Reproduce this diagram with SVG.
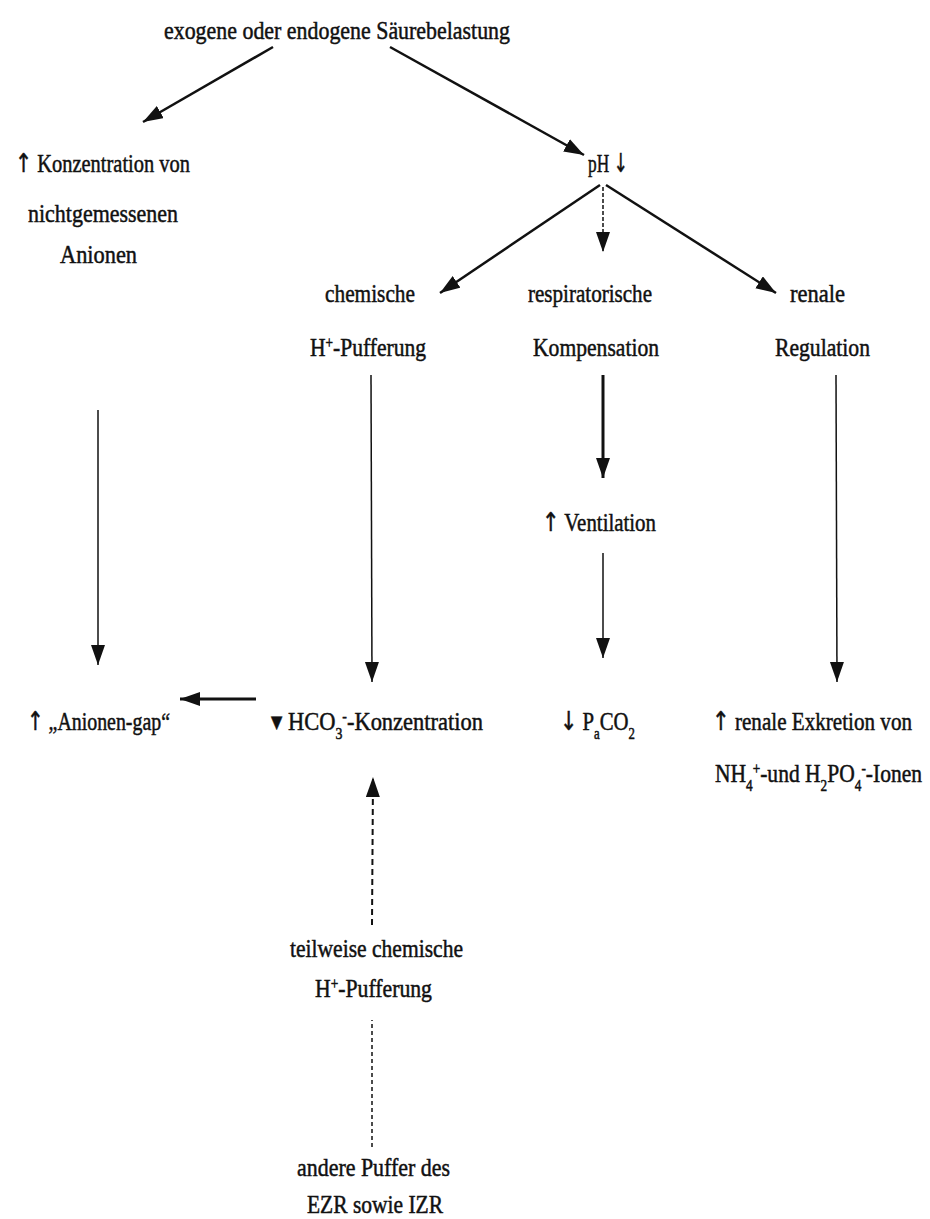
<svg xmlns="http://www.w3.org/2000/svg" width="930" height="1219" viewBox="0 0 930 1219">
<style>
text{font-family:"Liberation Serif","DejaVu Serif","Times New Roman",serif;font-size:26px;fill:#111;stroke:#111;stroke-width:0.5px;}
.a{font-family:"DejaVu Sans","Liberation Sans",sans-serif;fill:#111;}
.c{stroke:#111;fill:none;}
.sub{font-size:16px;}
</style>
<defs>
<marker id="ah" markerUnits="userSpaceOnUse" markerWidth="22" markerHeight="16" refX="20" refY="7" orient="auto">
<path d="M0,0 L20,7 L0,14 z" fill="#111"/>
</marker>
</defs>
<rect width="930" height="1219" fill="#fff"/>
<g id="connectors">
<line class="c" x1="273" y1="47" x2="143" y2="122" stroke-width="2.5" marker-end="url(#ah)"/>
<line class="c" x1="390" y1="47" x2="584" y2="155" stroke-width="2.5" marker-end="url(#ah)"/>
<line class="c" x1="600" y1="185" x2="440" y2="293" stroke-width="2.5" marker-end="url(#ah)"/>
<line class="c" x1="603" y1="187" x2="603" y2="252" stroke-width="1.5" stroke-dasharray="4,2" marker-end="url(#ah)"/>
<line class="c" x1="606" y1="185" x2="776" y2="293" stroke-width="2.5" marker-end="url(#ah)"/>
<line class="c" x1="98" y1="410" x2="98" y2="665" stroke-width="1.5" marker-end="url(#ah)"/>
<line class="c" x1="371" y1="375" x2="372" y2="682" stroke-width="1.5" marker-end="url(#ah)"/>
<line class="c" x1="603" y1="375" x2="603" y2="478" stroke-width="3" marker-end="url(#ah)"/>
<line class="c" x1="603" y1="553" x2="603" y2="658" stroke-width="1.5" marker-end="url(#ah)"/>
<line class="c" x1="836" y1="375" x2="837" y2="682" stroke-width="1.5" marker-end="url(#ah)"/>
<line class="c" x1="256" y1="699" x2="180" y2="699" stroke-width="3" marker-end="url(#ah)"/>
<line class="c" x1="372" y1="925" x2="373" y2="777" stroke-width="2" stroke-dasharray="6,4" marker-end="url(#ah)"/>
<line class="c" x1="372" y1="1147" x2="372" y2="1020" stroke-width="1.5" stroke-dasharray="4,3"/>
</g>
<g id="n-saeure"><text x="164" y="39" textLength="346" lengthAdjust="spacingAndGlyphs">exogene oder endogene Säurebelastung</text></g>
<g id="n-anionen">
<text x="15" y="172" textLength="175" lengthAdjust="spacingAndGlyphs"><tspan class="a">↑</tspan> Konzentration von</text>
<text x="28" y="222" textLength="150" lengthAdjust="spacingAndGlyphs">nichtgemessenen</text>
<text x="60" y="263" textLength="77" lengthAdjust="spacingAndGlyphs">Anionen</text>
</g>
<g id="n-ph"><text x="588" y="172" textLength="40" lengthAdjust="spacingAndGlyphs">pH <tspan class="a">↓</tspan></text></g>
<g id="n-chem">
<text x="325" y="302" textLength="90" lengthAdjust="spacingAndGlyphs">chemische</text>
<text x="310" y="356" textLength="116" lengthAdjust="spacingAndGlyphs">H<tspan class="sub" baseline-shift="super">+</tspan>-Pufferung</text>
</g>
<g id="n-resp">
<text x="528" y="302" textLength="124" lengthAdjust="spacingAndGlyphs">respiratorische</text>
<text x="533" y="356" textLength="126" lengthAdjust="spacingAndGlyphs">Kompensation</text>
</g>
<g id="n-ren">
<text x="790" y="302" textLength="55" lengthAdjust="spacingAndGlyphs">renale</text>
<text x="775" y="356" textLength="95" lengthAdjust="spacingAndGlyphs">Regulation</text>
</g>
<g id="n-vent"><text x="542" y="531" textLength="114" lengthAdjust="spacingAndGlyphs"><tspan class="a">↑</tspan> Ventilation</text></g>
<g id="n-gap"><text x="27" y="730" textLength="143" lengthAdjust="spacingAndGlyphs"><tspan class="a">↑</tspan> „Anionen-gap“</text></g>
<g id="n-hco3"><text x="271" y="730" textLength="212" lengthAdjust="spacingAndGlyphs"><tspan class="a">▾</tspan> HCO<tspan class="sub" baseline-shift="sub">3</tspan><tspan class="sub" baseline-shift="super">-</tspan>-Konzentration</text></g>
<g id="n-paco2"><text x="560" y="730" textLength="75" lengthAdjust="spacingAndGlyphs"><tspan class="a">↓</tspan> P<tspan class="sub" baseline-shift="sub">a</tspan>CO<tspan class="sub" baseline-shift="sub">2</tspan></text></g>
<g id="n-exkr">
<text x="712" y="730" textLength="200" lengthAdjust="spacingAndGlyphs"><tspan class="a">↑</tspan> renale Exkretion von</text>
<text x="715" y="782" textLength="207" lengthAdjust="spacingAndGlyphs">NH<tspan class="sub" baseline-shift="sub">4</tspan><tspan class="sub" baseline-shift="super">+</tspan>-und H<tspan class="sub" baseline-shift="sub">2</tspan>PO<tspan class="sub" baseline-shift="sub">4</tspan><tspan class="sub" baseline-shift="super">-</tspan>-Ionen</text>
</g>
<g id="n-teil">
<text x="290" y="957" textLength="173" lengthAdjust="spacingAndGlyphs">teilweise chemische</text>
<text x="315" y="997" textLength="117" lengthAdjust="spacingAndGlyphs">H<tspan class="sub" baseline-shift="super">+</tspan>-Pufferung</text>
</g>
<g id="n-andere">
<text x="297" y="1176" textLength="153" lengthAdjust="spacingAndGlyphs">andere Puffer des</text>
<text x="307" y="1213" textLength="136" lengthAdjust="spacingAndGlyphs">EZR sowie IZR</text>
</g>
</svg>
